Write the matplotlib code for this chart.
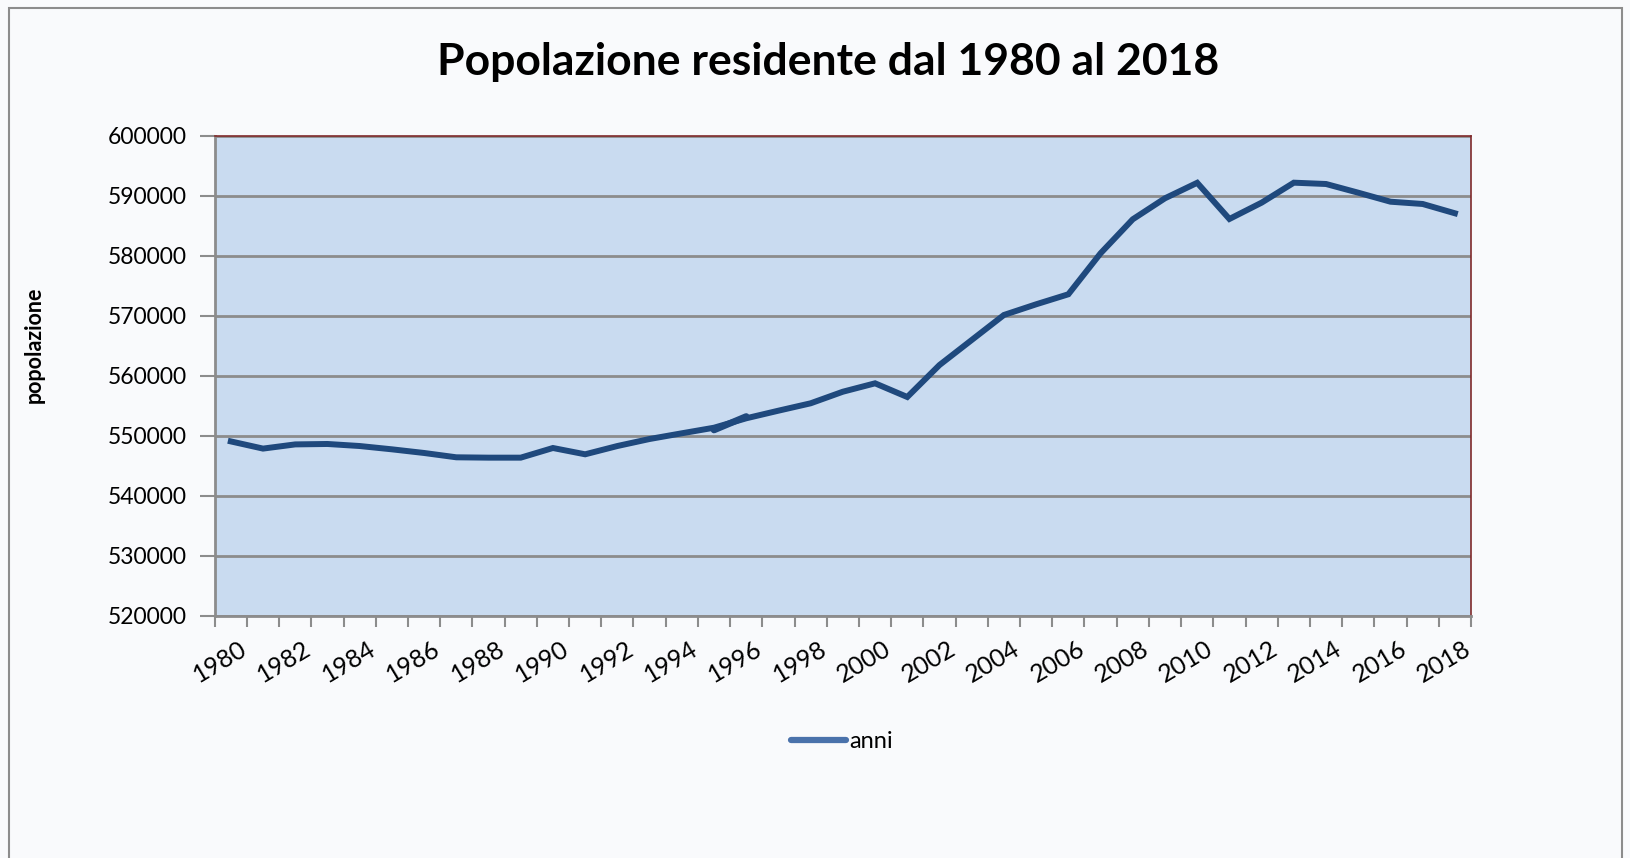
import numpy as np
import matplotlib
matplotlib.use("Agg")
import matplotlib.pyplot as plt
from matplotlib.patches import Rectangle
from matplotlib.transforms import ScaledTranslation

plt.rcParams['font.family'] = ['Lato', 'DejaVu Sans']

# dati
anni = list(range(1980, 2019))
popolazione = [549100, 547900, 548600, 548670, 548330, 547780, 547170, 546450,
               546390, 546390, 548000, 546950, 548330, 549500, 550450, 551380,
               552950, 554220, 555450, 557380, 558780, 556500, 561830, 566000,
               570170, 571950, 573620, 580450, 586120, 589620, 592200, 586170,
               588890, 592220, 592000, 590550, 589050, 588670, 587120]
# tratto ripetuto tra 1995 e 1996
anni_doppio = [1995, 1996]
pop_doppio = [551000, 553250]

etichette_x = [str(a) for a in anni[::2]]
ticks_y = list(range(520000, 600001, 10000))

fig = plt.figure(figsize=(16.3, 8.58), dpi=100)
fig.patch.set_facecolor('#f9fafc')
fig.patches.append(Rectangle((9.4 / 1630, -0.1), (1622 - 9.4) / 1630, 1.1 - 8.3 / 858,
                             transform=fig.transFigure, fill=False,
                             edgecolor='#8c8c8c', linewidth=1.5))

ax = fig.add_axes([214.7 / 1630, 1 - 616 / 858, (1471 - 214.7) / 1630, (616 - 136) / 858])
ax.set_facecolor('#c9dbf0')

idx = np.arange(len(anni))
ax.plot(idx, popolazione, color='#1f497d', linewidth=4.3, solid_joinstyle='miter',
        label='anni', zorder=3)
idx_d = [anni.index(a) for a in anni_doppio]
ax.plot(idx_d, pop_doppio, color='#1f497d', linewidth=4.8, solid_capstyle='round', zorder=3)

ax.set_xlim(-0.5, len(anni) - 0.5)
ax.set_ylim(520000, 600000)
ax.set_yticks(ticks_y)
ax.set_yticklabels([str(t) for t in ticks_y], fontsize=16.5)
ax.yaxis.grid(True, color='#8c8c8c', linewidth=2)
ax.set_axisbelow(True)

ax.set_xticks(idx[::2])
ax.set_xticklabels(etichette_x, fontsize=18, rotation=31, ha='right', va='center',
                   rotation_mode='anchor')
ax.set_xticks(np.arange(-0.5, len(anni)), minor=True)
ax.tick_params(axis='x', which='major', length=0, pad=22)
ax.tick_params(axis='x', which='minor', length=8, width=1.5, color='#8c8c8c')
ax.tick_params(axis='y', length=11, width=1.5, color='#8c8c8c', pad=9)
off = ScaledTranslation(14 / 100, 0, fig.dpi_scale_trans)
for lab in ax.get_xticklabels():
    lab.set_transform(lab.get_transform() + off)

for s in ['left', 'bottom']:
    ax.spines[s].set_color('#8c8c8c')
    ax.spines[s].set_linewidth(2)
for s in ['top', 'right']:
    ax.spines[s].set_color('#7f2a2a')
    ax.spines[s].set_linewidth(1.2)

fig.text(0.508, 1 - 62 / 858, 'Popolazione residente dal 1980 al 2018',
         fontsize=32, fontweight='bold', ha='center', va='center')
fig.text(34 / 1630, 1 - 345 / 858, 'popolazione', fontsize=15.5, fontweight='bold',
         rotation=90, ha='center', va='center')

leg_line, = ax.plot([], [], color='#4a72ab', linewidth=4.5, solid_capstyle='round')
fig.legend([leg_line], ['anni'], loc='center', bbox_to_anchor=(842 / 1630, 1 - 742 / 858),
           frameon=False, fontsize=17, handlelength=2.3, handletextpad=0.15)

fig.savefig('out.png', dpi=100, facecolor=fig.get_facecolor())
